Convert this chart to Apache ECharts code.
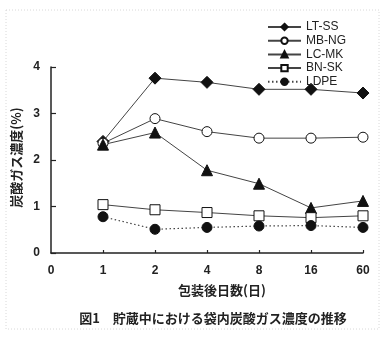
<!DOCTYPE html>
<html>
<head>
<meta charset="utf-8">
<script src="https://cdn.jsdelivr.net/npm/echarts@6/dist/echarts.min.js"></script>
<style>
  html, body { margin: 0; padding: 0; background: #fff; }
  #chart { width: 390px; height: 339px; }
</style>
</head>
<body>
<div id="chart"></div>
<script>
// Days after packaging (category axis; "0" is the origin only)
var dayLabels = ['0', '1', '2', '4', '8', '16', '60'];
var sampleDays = ['1', '2', '4', '8', '16', '60'];

// CO2 concentration in the bag (%)
var ltSS = [2.40, 3.76, 3.67, 3.52, 3.52, 3.44];
var mbNG = [2.36, 2.89, 2.61, 2.47, 2.47, 2.49];
var lcMK = [2.33, 2.59, 1.78, 1.49, 0.97, 1.12];
var bnSK = [1.04, 0.93, 0.87, 0.80, 0.76, 0.80];
var ldpe = [0.78, 0.51, 0.55, 0.58, 0.59, 0.55];

var yTicks = [0, 1, 2, 3, 4];

var latin = '"Liberation Sans", Arial, sans-serif';
var cjk = '"Noto Sans CJK JP", sans-serif';

function pairs(vals) {
  return sampleDays.map(function (d, i) { return [d, vals[i]]; });
}

function makeSeries(name, vals, symbol, size, filled, dotted) {
  return {
    name: name,
    type: 'line',
    data: pairs(vals),
    symbol: symbol,
    symbolSize: size,
    showAllSymbol: true,
    lineStyle: { color: '#444', width: dotted ? 1.2 : 1, type: dotted ? [1.5, 2.5] : 'solid' },
    itemStyle: { color: filled ? '#111' : '#fff', borderColor: '#111', borderWidth: 1 },
    emphasis: { disabled: true },
    z: 3
  };
}

var chart = echarts.init(document.getElementById('chart'), null, { renderer: 'canvas' });

chart.setOption({
  animation: false,
  backgroundColor: '#fff',
  title: {
    text: '図1　貯蔵中における袋内炭酸ガス濃度の推移',
    left: 208,
    textAlign: 'center',
    top: 307,
    textStyle: { fontFamily: cjk, fontSize: 13, fontWeight: 'bold', color: '#222' }
  },
  legend: {
    orient: 'vertical',
    left: 262,
    top: 16,
    itemWidth: 33,
    itemHeight: 8,
    itemGap: 1.7,
    textStyle: { fontFamily: latin, fontSize: 12, color: '#222', lineHeight: 12, padding: [0, 0, 0, 0] },
    data: ['LT-SS', 'MB-NG', 'LC-MK', 'BN-SK', 'LDPE']
  },
  grid: { left: 51, right: 27, top: 67, bottom: 86 },
  xAxis: {
    type: 'category',
    data: dayLabels,
    boundaryGap: false,
    name: '包装後日数(日)',
    nameLocation: 'middle',
    nameGap: 31,
    nameTextStyle: { fontFamily: cjk, fontSize: 13, fontWeight: 'bold', color: '#222', padding: [0, 0, 0, 30] },
    axisLine: { lineStyle: { color: '#222', width: 1.5 } },
    axisTick: {
      inside: true, length: 3,
      lineStyle: { color: '#222', width: 1.2 },
      interval: function (idx) { return idx > 0; }
    },
    axisLabel: { fontFamily: latin, fontSize: 12, fontWeight: 'bold', color: '#222', margin: 12 },
    splitLine: { show: false }
  },
  yAxis: {
    type: 'value',
    min: 0,
    max: 4,
    interval: 1,
    name: '炭酸ガス濃度(%)',
    nameLocation: 'middle',
    nameGap: 21,
    nameTextStyle: { fontFamily: cjk, fontSize: 13, fontWeight: 'bold', color: '#222', padding: [0, 0, 0, 5] },
    axisLine: { show: true, lineStyle: { color: '#222', width: 1.5 } },
    axisTick: { show: true, inside: true, length: 5, lineStyle: { color: '#222', width: 1.2 } },
    axisLabel: {
      fontFamily: latin, fontSize: 12, fontWeight: 'bold', color: '#222', margin: 11,
      formatter: function (v) { return yTicks.indexOf(v) >= 0 ? String(v) : ''; }
    },
    splitLine: { show: false }
  },
  graphic: [{
    type: 'rect',
    shape: { x: 6, y: 10, width: 373, height: 319 },
    style: { fill: 'none', stroke: '#d8d8d8', lineWidth: 1, lineDash: [1, 2] },
    silent: true,
    z: -1
  }],
  series: [
    makeSeries('LT-SS', ltSS, 'diamond', 12, true, false),
    makeSeries('MB-NG', mbNG, 'circle', 10, false, false),
    makeSeries('LC-MK', lcMK, 'triangle', 11, true, false),
    makeSeries('BN-SK', bnSK, 'rect', 10, false, false),
    makeSeries('LDPE', ldpe, 'circle', 10, true, true)
  ]
});
</script>
</body>
</html>
